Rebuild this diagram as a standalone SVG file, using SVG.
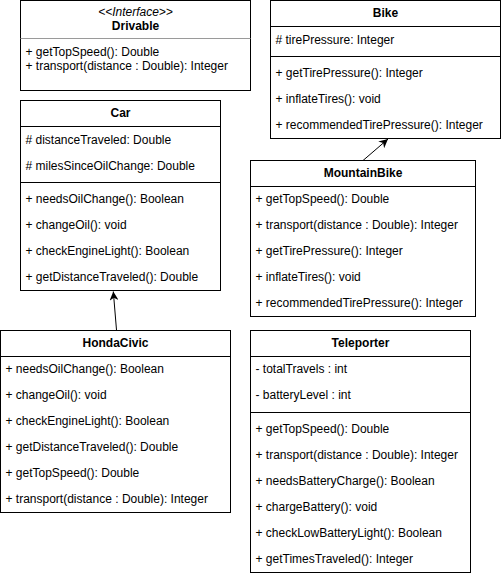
<svg xmlns="http://www.w3.org/2000/svg" width="501" height="576" viewBox="0 0 501 576">
<defs>
<style>
.box{fill:#fff;stroke:#000;stroke-width:1}
.sep{stroke:#000;stroke-width:1}
.sepg{stroke:#9a9a9a;stroke-width:1}
text{font-family:"Liberation Sans",Arial,Helvetica,sans-serif;font-size:12px;fill:#000}
.t{font-weight:bold;text-anchor:middle}
.st{font-style:italic;text-anchor:middle}
.edge{stroke:#000;stroke-width:1;fill:none}
</style>
<marker id="arr" viewBox="0 0 10 10" refX="10" refY="5" markerWidth="10" markerHeight="9" markerUnits="userSpaceOnUse" orient="auto">
<path d="M0,0 L10,5 L0,10 L3,5 z" fill="#000"/>
</marker>
</defs>
<rect width="501" height="576" fill="#fff"/>
<g id="connectors">
<line class="edge" x1="116.5" y1="330" x2="113.3" y2="291.5" marker-end="url(#arr)"/>
<line class="edge" x1="363" y1="160.5" x2="388" y2="139" marker-end="url(#arr)"/>
</g>
<g id="Drivable">
<rect class="box" x="20.5" y="0.5" width="230" height="90"/>
<line class="sepg" x1="20.5" y1="38.5" x2="250.5" y2="38.5"/>
<text class="st" x="135.5" y="16">&lt;&lt;Interface&gt;&gt;</text>
<text class="t" x="135.5" y="30">Drivable</text>
<text x="25.5" y="56">+ getTopSpeed(): Double</text>
<text x="25.5" y="70">+ transport(distance : Double): Integer</text>
</g>
<g id="Bike">
<rect class="box" x="270.5" y="0.5" width="230" height="138"/>
<line class="sep" x1="270.5" y1="26.5" x2="500.5" y2="26.5"/>
<line class="sep" x1="270.5" y1="56.5" x2="500.5" y2="56.5"/>
<text class="t" x="385.5" y="17">Bike</text>
<text x="275.5" y="44"># tirePressure: Integer</text>
<text x="275.5" y="77">+ getTirePressure(): Integer</text>
<text x="275.5" y="103">+ inflateTires(): void</text>
<text x="275.5" y="129">+ recommendedTirePressure(): Integer</text>
</g>
<g id="Car">
<rect class="box" x="20.5" y="100.5" width="200" height="190"/>
<line class="sep" x1="20.5" y1="126.5" x2="220.5" y2="126.5"/>
<line class="sep" x1="20.5" y1="182.5" x2="220.5" y2="182.5"/>
<text class="t" x="120.5" y="117">Car</text>
<text x="25.5" y="144"># distanceTraveled: Double</text>
<text x="25.5" y="170"># milesSinceOilChange: Double</text>
<text x="25.5" y="203">+ needsOilChange(): Boolean</text>
<text x="25.5" y="229">+ changeOil(): void</text>
<text x="25.5" y="255">+ checkEngineLight(): Boolean</text>
<text x="25.5" y="281">+ getDistanceTraveled(): Double</text>
</g>
<g id="MountainBike">
<rect class="box" x="250.5" y="160.5" width="225" height="156"/>
<line class="sep" x1="250.5" y1="186.5" x2="475.5" y2="186.5"/>
<text class="t" x="363" y="177">MountainBike</text>
<text x="255.5" y="203">+ getTopSpeed(): Double</text>
<text x="255.5" y="229">+ transport(distance : Double): Integer</text>
<text x="255.5" y="255">+ getTirePressure(): Integer</text>
<text x="255.5" y="281">+ inflateTires(): void</text>
<text x="255.5" y="307">+ recommendedTirePressure(): Integer</text>
</g>
<g id="HondaCivic">
<rect class="box" x="0.5" y="330.5" width="230" height="182"/>
<line class="sep" x1="0.5" y1="356.5" x2="230.5" y2="356.5"/>
<text class="t" x="115.5" y="347">HondaCivic</text>
<text x="5.5" y="373">+ needsOilChange(): Boolean</text>
<text x="5.5" y="399">+ changeOil(): void</text>
<text x="5.5" y="425">+ checkEngineLight(): Boolean</text>
<text x="5.5" y="451">+ getDistanceTraveled(): Double</text>
<text x="5.5" y="477">+ getTopSpeed(): Double</text>
<text x="5.5" y="503">+ transport(distance : Double): Integer</text>
</g>
<g id="Teleporter">
<rect class="box" x="250.5" y="330.5" width="220" height="242"/>
<line class="sep" x1="250.5" y1="356.5" x2="470.5" y2="356.5"/>
<line class="sep" x1="250.5" y1="412.5" x2="470.5" y2="412.5"/>
<text class="t" x="360.5" y="347">Teleporter</text>
<text x="255.5" y="373">- totalTravels : int</text>
<text x="255.5" y="399">- batteryLevel : int</text>
<text x="255.5" y="433">+ getTopSpeed(): Double</text>
<text x="255.5" y="459">+ transport(distance : Double): Integer</text>
<text x="255.5" y="485">+ needsBatteryCharge(): Boolean</text>
<text x="255.5" y="511">+ chargeBattery(): void</text>
<text x="255.5" y="537">+ checkLowBatteryLight(): Boolean</text>
<text x="255.5" y="563">+ getTimesTraveled(): Integer</text>
</g>
</svg>
